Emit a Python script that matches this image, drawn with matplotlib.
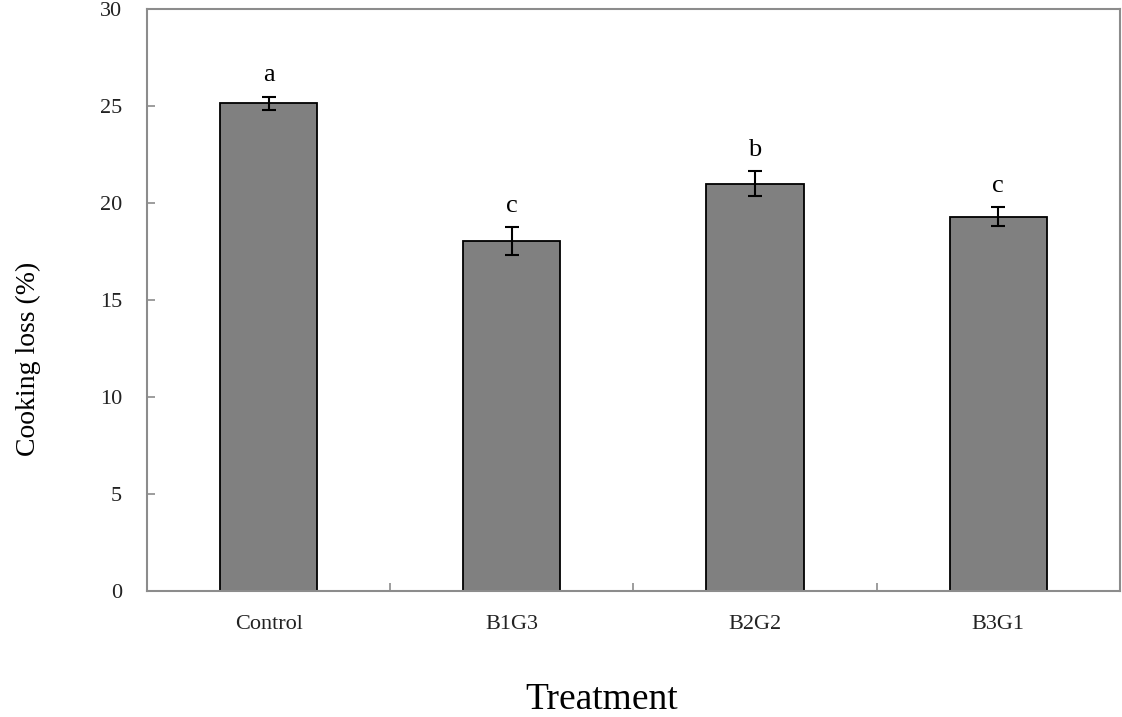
import matplotlib
matplotlib.use('Agg')
import matplotlib.pyplot as plt

treatments = ['Control', 'B1G3', 'B2G2', 'B3G1']
cooking_loss = [25.15, 18.05, 21.0, 19.3]
sd = [0.35, 0.7, 0.65, 0.5]
letters = ['a', 'c', 'b', 'c']

plt.rcParams['font.family'] = ['Liberation Serif', 'DejaVu Serif']

fig = plt.figure(figsize=(11.22, 7.17), dpi=100)
ax = fig.add_axes([0.131, 0.1757, 0.867, 0.8113])

x = range(len(treatments))
ax.bar(x, cooking_loss, width=0.4, color='#808080', edgecolor='black', linewidth=1.3, zorder=2)
ax.errorbar(x, cooking_loss, yerr=sd, fmt='none', ecolor='black', elinewidth=1.5,
            capsize=5, capthick=1.5, zorder=3)

#significance letters above error bars
for i in x:
    ax.text(i, cooking_loss[i] + sd[i] + 0.8, letters[i], ha='center', va='baseline', fontsize=19)

ax.set_xlim(-0.5, 3.5)
ax.set_ylim(0, 30)
ax.set_yticks([0, 5, 10, 15, 20, 25, 30])
ax.set_xticks(list(x))
ax.set_xticklabels(treatments)
ax.set_xticks([0.5, 1.5, 2.5], minor=True)

for s in ax.spines.values():
    s.set_color('#8c8c8c')
    s.set_linewidth(1.5)

ax.tick_params(axis='x', which='major', length=0, pad=17, labelsize=16, labelcolor='#222222')
ax.tick_params(axis='x', which='minor', direction='in', length=6, width=1.2, color='#8c8c8c')
ax.tick_params(axis='y', direction='in', length=6, width=1.2, color='#8c8c8c', pad=18,
               labelsize=16, labelcolor='#222222')

fig.text(0.025, 0.50, 'Cooking loss (%)', rotation=90, ha='center', va='center', fontsize=20)
fig.text(0.536, 0.048, 'Treatment', ha='center', va='top', fontsize=27)

fig.savefig('out.png', dpi=100)
